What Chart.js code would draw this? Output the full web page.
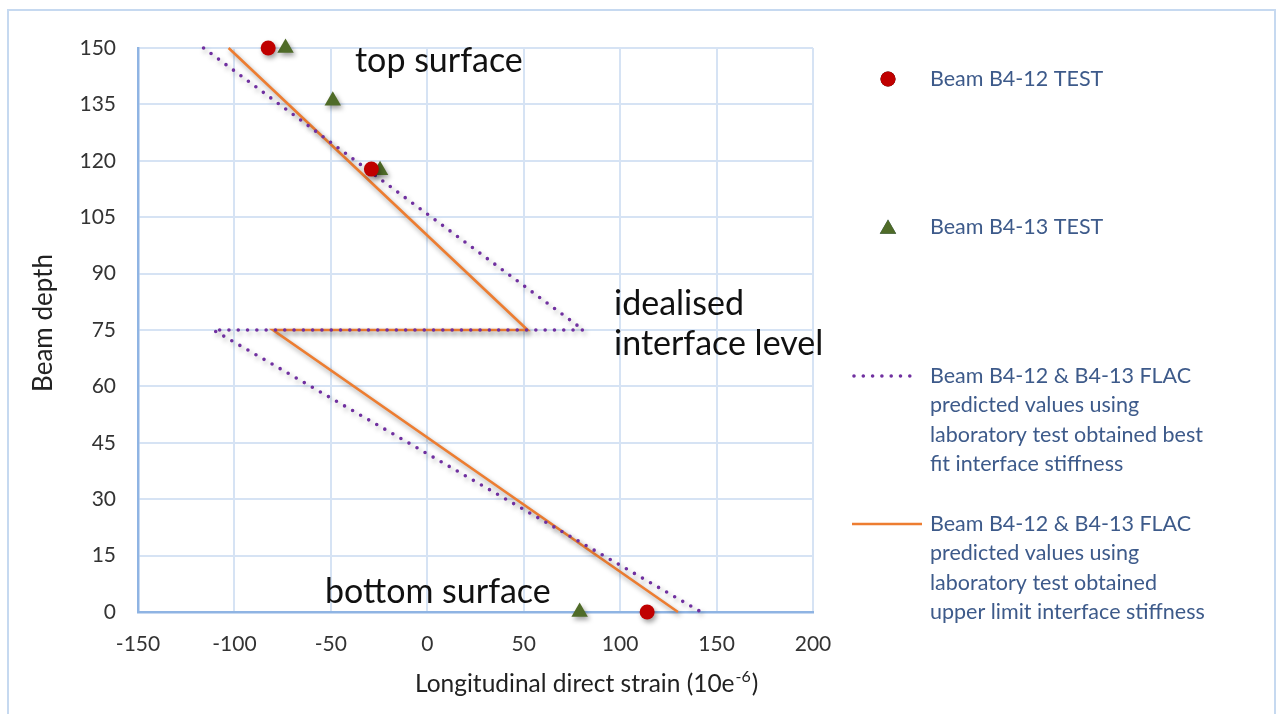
<!DOCTYPE html>
<html>
<head>
<meta charset="utf-8">
<script src="https://cdn.jsdelivr.net/npm/chart.js@4.4.1/dist/chart.umd.min.js"></script>
<style>
  html, body { margin: 0; padding: 0; background: #ffffff; }
  #wrap { width: 1279px; height: 714px; position: relative; }
</style>
</head>
<body>
<div id="wrap"><canvas id="chart"></canvas></div>
<script>
// Measured strains (10e-6) against beam depth
const b412Strain = [-82.5, -29, 114];
const b412Depth  = [150, 117.8, 0];
const b413Strain = [-73.5, -49, -24.5, 79];
const b413Depth  = [150, 136, 117.5, 0];

// FLAC predictions (two interface stiffness cases)
const bestFitStrain = [-116, 81, -111, 142];
const bestFitDepth  = [150, 75, 75, 0];
const upperStrain   = [-103, 52, -80, 130];
const upperDepth    = [150, 75, 75, 0];

// Axis ranges and tick steps
const strainTicks = [-150, -100, -50, 0, 50, 100, 150, 200];
const depthTicks  = [0, 15, 30, 45, 60, 75, 90, 105, 120, 135, 150];

// Series names, as wrapped in the side legend
const seriesLines = [
  ['Beam B4-12 TEST'],
  ['Beam B4-13 TEST'],
  ['Beam B4-12 & B4-13 FLAC', 'predicted values using', 'laboratory test obtained best', 'fit interface stiffness'],
  ['Beam B4-12 & B4-13 FLAC', 'predicted values using', 'laboratory test obtained', 'upper limit interface stiffness']
];

const pairs = (xs, ys) => xs.map((x, i) => ({ x: x, y: ys[i] }));

const FONT = 'Lato';
const TICK_COLOR = '#333333';
const LEGEND_COLOR = '#3d5a8a';

// Frame around the whole chart
const framePlugin = {
  id: 'frame',
  beforeDraw(chart) {
    const ctx = chart.ctx;
    ctx.save();
    ctx.fillStyle = '#ffffff';
    ctx.fillRect(0, 0, chart.width, chart.height);
    ctx.strokeStyle = '#c6d9f0';
    ctx.lineWidth = 2;
    ctx.strokeRect(8, 10, 1267, 730);
    ctx.restore();
  }
};

// Soft drop shadow under markers and lines
const shadowPlugin = {
  id: 'shadow',
  beforeDatasetsDraw(chart) {
    const ctx = chart.ctx;
    ctx.save();
    ctx.shadowColor = 'rgba(0,0,0,0.38)';
    ctx.shadowBlur = 5;
    ctx.shadowOffsetX = 2;
    ctx.shadowOffsetY = 3;
  },
  afterDatasetsDraw(chart) {
    chart.ctx.restore();
  }
};

// Axis titles and text labels on the plot
const labelsPlugin = {
  id: 'labels',
  afterDraw(chart) {
    const ctx = chart.ctx;
    ctx.save();
    ctx.textAlign = 'left';
    ctx.textBaseline = 'alphabetic';
    ctx.fillStyle = '#111111';
    ctx.font = '34px ' + FONT;
    ctx.fillText('top surface', 355, 72);
    ctx.fillText('idealised', 614, 315);
    ctx.fillText('interface level', 614, 355);
    ctx.fillText('bottom surface', 325, 603);

    // x title with superscript exponent
    ctx.fillStyle = '#222222';
    ctx.font = '24.5px ' + FONT;
    let x = 415;
    const base = 692;
    const t1 = 'Longitudinal direct strain (10e';
    ctx.fillText(t1, x, base);
    x += ctx.measureText(t1).width;
    ctx.font = '16px ' + FONT;
    ctx.fillText('-6', x + 1, base - 10);
    x += ctx.measureText('-6').width + 2;
    ctx.font = '24.5px ' + FONT;
    ctx.fillText(')', x, base);

    // y title
    ctx.translate(52, 323);
    ctx.rotate(-Math.PI / 2);
    ctx.textAlign = 'center';
    ctx.font = '26px ' + FONT;
    ctx.fillText('Beam depth', 0, 0);
    ctx.restore();
  }
};

// Side legend built from the dataset styles
const sideLegendPlugin = {
  id: 'sideLegend',
  afterDraw(chart) {
    const ctx = chart.ctx;
    const rows = [
      { y: 79 }, { y: 227 }, { y: 376 }, { y: 524 }
    ];
    const lineGap = 29.3;
    ctx.save();
    chart.data.datasets.forEach((ds, i) => {
      const y = rows[i].y;
      if (ds.showLine) {
        ctx.save();
        ctx.strokeStyle = ds.borderColor;
        ctx.lineWidth = ds.borderWidth;
        ctx.lineCap = ds.borderCapStyle || 'butt';
        ctx.setLineDash(ds.borderDash || []);
        ctx.beginPath();
        ctx.moveTo(ds.borderDash ? 854 : 852, y);
        ctx.lineTo(ds.borderDash ? 919 : 922, y);
        ctx.stroke();
        ctx.restore();
      } else {
        Chart.helpers.drawPoint(ctx, {
          pointStyle: ds.pointStyle,
          radius: ds.pointStyle === 'triangle' ? 9.5 : 7.5,
          rotation: 0,
          borderWidth: 0
        }, 888, ds.pointStyle === 'triangle' ? y + 2 : y);
        ctx.fillStyle = ds.backgroundColor;
        ctx.fill();
      }
      ctx.fillStyle = LEGEND_COLOR;
      ctx.font = '21.5px ' + FONT;
      ctx.textAlign = 'left';
      ctx.textBaseline = 'middle';
      seriesLines[i].forEach((line, k) => {
        ctx.fillText(line, 930, y + k * lineGap);
      });
    });
    ctx.restore();
  }
};

const ctx = document.getElementById('chart').getContext('2d');
new Chart(ctx, {
  type: 'scatter',
  data: {
    datasets: [
      {
        label: seriesLines[0].join(' '),
        data: pairs(b412Strain, b412Depth),
        pointStyle: 'circle',
        pointRadius: 7.5,
        backgroundColor: '#c00000',
        borderColor: '#c00000',
        pointBorderWidth: 0,
        showLine: false,
        clip: false
      },
      {
        label: seriesLines[1].join(' '),
        data: pairs(b413Strain, b413Depth),
        pointStyle: 'triangle',
        pointRadius: 9.5,
        backgroundColor: '#4f6b28',
        borderColor: '#4f6b28',
        pointBorderWidth: 0,
        showLine: false,
        clip: false
      },
      {
        label: seriesLines[2].join(' '),
        data: pairs(bestFitStrain, bestFitDepth),
        showLine: true,
        borderColor: '#7030a0',
        backgroundColor: '#7030a0',
        borderWidth: 3.6,
        borderDash: [0, 9.3],
        borderCapStyle: 'round',
        pointRadius: 0,
        tension: 0,
        clip: false
      },
      {
        label: seriesLines[3].join(' '),
        data: pairs(upperStrain, upperDepth),
        showLine: true,
        borderColor: '#ed7d31',
        backgroundColor: '#ed7d31',
        borderWidth: 2.6,
        pointRadius: 0,
        tension: 0,
        clip: false
      }
    ]
  },
  options: {
    responsive: true,
    maintainAspectRatio: false,
    animation: false,
    events: [],
    layout: { padding: { left: 0, top: 48, right: 466, bottom: 0 } },
    plugins: {
      legend: { display: false },
      tooltip: { enabled: false },
      title: { display: false }
    },
    scales: {
      x: {
        type: 'linear',
        min: strainTicks[0],
        max: strainTicks[strainTicks.length - 1],
        afterBuildTicks(scale) { scale.ticks = strainTicks.map(v => ({ value: v })); },
        afterFit(scale) { scale.height = 102; },
        grid: { color: '#d6e3f4', lineWidth: 2, drawTicks: false },
        border: { color: '#8fb4e3', width: 2.5 },
        ticks: { color: TICK_COLOR, font: { family: FONT, size: 21 }, padding: 20 }
      },
      y: {
        type: 'linear',
        min: depthTicks[0],
        max: depthTicks[depthTicks.length - 1],
        afterBuildTicks(scale) { scale.ticks = depthTicks.map(v => ({ value: v })); },
        afterFit(scale) { scale.width = 138; },
        grid: { color: '#d6e3f4', lineWidth: 2, drawTicks: false },
        border: { color: '#8fb4e3', width: 2.5 },
        ticks: { color: TICK_COLOR, font: { family: FONT, size: 21 }, padding: 22 }
      }
    }
  },
  plugins: [framePlugin, shadowPlugin, labelsPlugin, sideLegendPlugin]
});
</script>
</body>
</html>
